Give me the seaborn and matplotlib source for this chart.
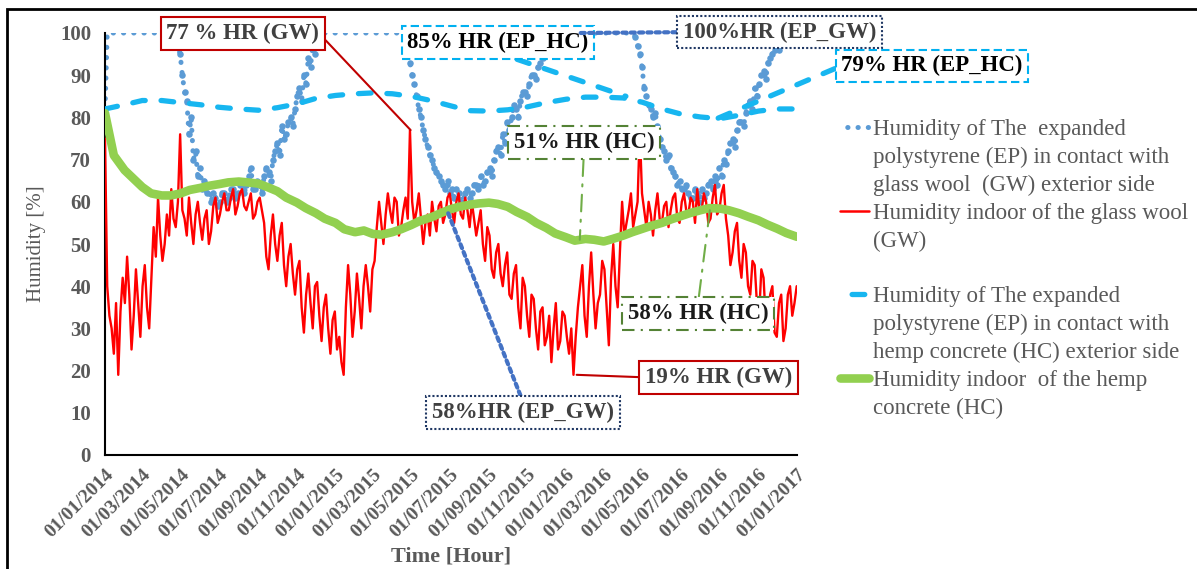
import matplotlib.pyplot as plt
import matplotlib.dates as mdates
import pandas as pd
import seaborn as sns
from matplotlib.lines import Line2D
from matplotlib.patches import Rectangle

# readings every 3.5 days, starting 01/01/2014
ep_gw = ([82] + [100] * 32 + [97] +
         [95, 90, 86, 84, 76, 80, 70, 72, 66, 68, 63, 65, 62, 64, 60, 62,
          61, 59, 60, 62, 62, 60, 61, 63, 63, 61, 62, 64, 65, 62, 64, 66,
          68, 63, 63, 65, 64, 62, 66, 68, 67, 65, 70, 72, 74, 71, 78, 75,
          76, 79, 80, 78, 82, 85, 87, 84, 90, 88, 94, 92, 97, 95, 99, 100] +
         [100] * 39 + [97] +
         [93, 90, 88, 85, 82, 80, 77, 75, 73, 71, 70, 68, 67, 66, 65, 64,
          63, 65, 62, 63, 61, 63, 62, 60, 60, 62, 63, 61, 62, 64, 64, 63,
          66, 64, 65, 67, 68, 66, 70, 72, 73, 71, 76, 74, 79, 77, 80, 83,
          82, 80, 84, 86, 86, 85, 88, 90, 90, 89, 92, 93, 94, 96, 97, 99] +
         [100] * 38 +
         [99, 97, 95, 92, 87, 85, 83, 82, 80, 81, 78, 75, 73, 72, 70, 71,
          68, 67, 66, 64, 65, 63, 63, 64, 62, 61, 61, 63, 62, 60, 63, 61,
          62, 64, 65, 63, 66, 64, 68, 66, 70, 69, 72, 74, 75, 73, 77, 79,
          79, 78, 81, 83, 84, 82, 87, 85, 88, 90, 91, 89, 93, 94, 95, 96,
          97, 96, 98, 99] +
         [100] * 6)

gw_indoor = [75, 40, 33, 30, 24, 36, 19, 34, 42, 36, 47, 38, 25, 33, 44, 36,
             28, 40, 45, 35, 30, 42, 54, 47, 61, 52, 46, 50, 57, 52, 63, 56,
             54, 60, 76, 58, 56, 52, 61, 55, 50, 57, 60, 55, 51, 56, 58, 50,
             53, 59, 61, 55, 57, 60, 62, 58, 58, 61, 63, 57, 59, 62, 63, 59,
             58, 60, 62, 56, 57, 60, 61, 58, 55, 47, 44, 52, 57, 50, 46, 52,
             55, 45, 40, 47, 50, 43, 38, 44, 46, 35, 29, 38, 43, 36, 30, 40,
             41, 33, 27, 35, 38, 30, 24, 32, 34, 25, 28, 22, 19, 35, 45, 38,
             28, 34, 43, 37, 30, 40, 45, 40, 34, 44, 46, 54, 60, 55, 50, 57,
             62, 58, 55, 61, 60, 52, 54, 58, 61, 56, 77, 60, 55, 58, 62, 56,
             50, 55, 57, 52, 60, 56, 53, 59, 60, 55, 57, 61, 62, 58, 55, 60,
             62, 57, 56, 61, 58, 54, 60, 56, 52, 55, 58, 50, 46, 54, 52, 44,
             42, 48, 50, 43, 40, 45, 48, 38, 37, 43, 45, 35, 30, 42, 40, 33,
             28, 38, 37, 30, 25, 34, 35, 26, 28, 33, 22, 30, 36, 25, 27, 34,
             33, 28, 24, 30, 19, 28, 35, 40, 45, 33, 28, 40, 48, 38, 30, 36,
             38, 46, 44, 35, 26, 42, 50, 40, 35, 48, 60, 52, 55, 58, 62, 54,
             57, 60, 77, 62, 58, 54, 60, 57, 52, 58, 62, 56, 55, 59, 60, 54,
             58, 61, 62, 56, 55, 60, 62, 58, 57, 61, 60, 55, 63, 58, 58, 62,
             60, 55, 56, 61, 64, 57, 58, 62, 64, 56, 52, 45, 48, 53, 55, 46,
             42, 50, 48, 40, 38, 46, 45, 36, 33, 44, 42, 32, 30, 38, 40, 29,
             28, 36, 38, 27, 30, 38, 40, 33, 36, 40]

# readings on the 1st and 15th of each month
hc_indoor = [81, 71, 67.5, 65.5, 63.5, 62, 61.5, 61.5, 62, 62.8, 63.3, 63.8,
             64.2, 64.6, 64.8, 64.6, 64.3, 63.5, 62.5, 61, 59.8, 58.5, 57.3,
             56, 55, 53.5, 52.8, 53.2, 52.4, 52.2, 52.8, 53.5, 54.5, 55.5,
             56.3, 57.2, 58.2, 58.8, 59.3, 59.6, 59.8, 59.5, 58.8, 57.6, 56.4,
             55, 53.8, 52.5, 51.6, 50.8, 51.2, 51, 50.6, 51.2, 52, 52.8, 53.6,
             54.3, 55, 55.8, 56.6, 57.3, 58, 58.5, 58.4, 58, 57.3, 56.5, 55.6,
             54.6, 53.6, 52.6, 51.7]

# monthly readings
ep_hc = [82, 83, 84, 84, 83.5, 83, 82.4, 82, 81.7, 82.3, 83.2, 84.5, 85.2,
         85.6, 85.8, 85.6, 85, 84, 82.8, 81.6, 81.5, 81.8, 82.5, 83.5, 84.3,
         84.8, 84.8, 84.6, 83.6, 82, 80.8, 80.1, 79.7, 80.5, 81.5, 82, 82]

legend_labels = [
    ["Humidity of The  expanded", "polystyrene (EP) in contact with",
     "glass wool  (GW) exterior side"],
    ["Humidity indoor of the glass wool", "(GW)", " "],
    ["Humidity of The expanded", "polystyrene (EP) in contact with",
     "hemp concrete (HC) exterior side"],
    ["Humidity indoor  of the hemp", "concrete (HC)"],
]

# call-outs: text, series, date, value, box centre (axes fraction), anchor
annot_text = ["77 % HR (GW)", "85% HR (EP_HC)", "100%HR (EP_GW)",
              "79% HR (EP_HC)", "51% HR (HC)", "58% HR (HC)",
              "19% HR (GW)", "58%HR (EP_GW)"]
annot_kind = ["GW", "EP_HC", "EP_GW", "EP_HC", "HC", "HC", "GW", "EP_GW"]
annot_date = ["2015-04-30", "2016-04-05", "2016-01-23", "2016-08-24",
              "2016-01-23", "2016-08-16", "2016-01-18", "2015-06-28"]
annot_value = [77, 85, 100, 79.5, 51, 58, 19, 57.5]
annot_pos = [(0.199, 0.999), (0.568, 0.978), (0.975, 1.002), (1.195, 0.922),
             (0.692, 0.741), (0.857, 0.335), (0.887, 0.184), (0.604, 0.101)]
annot_rel = [(1, 0.5), (0.5, 0), (0, 0.5), (0, 0.5),
             (0.5, 0), (0.5, 1), (0, 0.5), (0.5, 1)]

c_epgw = "#5B9BD5"
c_gw = "#FF0000"
c_ephc = "#17B6F0"
c_hc = "#92D050"
gray = "#595959"
dot_style = (0, (0.05, 2.0))
dash_style = (0, (2.4, 3.0))

half_weekly = pd.DataFrame({
    "date": pd.date_range("2014-01-01", periods=len(ep_gw), freq="84h"),
    "ep_gw": ep_gw,
    "gw": gw_indoor,
})
half_monthly = pd.DataFrame({
    "date": pd.date_range("2014-01-01", periods=len(hc_indoor), freq="SMS"),
    "hc": hc_indoor,
})
monthly = pd.DataFrame({
    "date": pd.date_range("2014-01-01", periods=len(ep_hc), freq="MS"),
    "ep_hc": ep_hc,
})

sns.set_theme(style="white")
plt.rcParams["font.family"] = ["Liberation Serif", "DejaVu Serif"]

fig = plt.figure(figsize=(11.97, 5.69), dpi=100)
ax = fig.add_axes([105 / 1197, 1 - 455 / 569, 692 / 1197, 422 / 569])

sns.lineplot(data=half_weekly, x="date", y="ep_gw", ax=ax, color=c_epgw,
             linewidth=3.6, zorder=2)
ax.lines[-1].set_linestyle(dot_style)
ax.lines[-1].set_dash_capstyle("round")
sns.scatterplot(data=half_weekly[half_weekly["ep_gw"] < 100], x="date",
                y="ep_gw", ax=ax, color=c_epgw, s=22, linewidth=0, zorder=2)
sns.lineplot(data=half_weekly, x="date", y="gw", ax=ax, color=c_gw,
             linewidth=1.7, zorder=3)
sns.lineplot(data=monthly, x="date", y="ep_hc", ax=ax, color=c_ephc,
             linewidth=3.8, zorder=4)
ax.lines[-1].set_linestyle(dash_style)
ax.lines[-1].set_dash_capstyle("round")
sns.lineplot(data=half_monthly, x="date", y="hc", ax=ax, color=c_hc,
             linewidth=6.2, zorder=5)
ax.lines[-1].set_solid_capstyle("round")

ax.set_xlim(pd.Timestamp("2014-01-01"), pd.Timestamp("2017-01-01"))
ax.set_ylim(0, 100)
ax.set_yticks(range(0, 101, 10))
ax.xaxis.set_major_locator(mdates.MonthLocator(bymonth=[1, 3, 5, 7, 9, 11]))
ax.xaxis.set_major_formatter(mdates.DateFormatter("%d/%m/%Y"))

for side in ["top", "right"]:
    ax.spines[side].set_visible(False)
for side in ["left", "bottom"]:
    ax.spines[side].set_color("black")
    ax.spines[side].set_linewidth(1.5)

ax.tick_params(axis="both", direction="out", length=6, width=1.5,
               color="black", labelcolor=gray)
ax.tick_params(axis="y", labelsize=15, pad=4)
ax.tick_params(axis="x", labelsize=14, pad=2)
for lab in ax.get_yticklabels():
    lab.set_fontweight("bold")
for lab in ax.get_xticklabels():
    lab.set_fontweight("bold")
    lab.set_rotation(45)
    lab.set_ha("right")
    lab.set_va("top")
    lab.set_rotation_mode("anchor")

ax.set_ylabel("Humidity [%]", fontsize=15, color=gray, labelpad=10)
ax.set_xlabel("Time [Hour]", fontsize=16, color=gray, fontweight="bold",
              labelpad=4)

styles = {
    "GW": dict(ec="#C00000", ls="-", tc="#404040",
               arrow=dict(color="#C00000", lw=1.5, linestyle="-")),
    "EP_HC": dict(ec="#00B0F0", ls=(0, (4, 2)), tc="black",
                  arrow=dict(color=c_ephc, lw=3.8, linestyle=dash_style)),
    "EP_GW": dict(ec="#203864", ls=(0, (1, 1)), tc="#404040",
                  arrow=dict(color="#4472C4", lw=3.0, linestyle=(0, (1, 1)))),
    "HC": dict(ec="#548235", ls=(0, (6, 3, 1, 3)), tc="#1a1a1a",
               arrow=dict(color="#70AD47", lw=1.5,
                          linestyle=(0, (8, 4, 1, 4)))),
}

for text, kind, d, v, pos, rel in zip(annot_text, annot_kind, annot_date,
                                      annot_value, annot_pos, annot_rel):
    st = styles[kind]
    ax.annotate(text, xy=(mdates.date2num(pd.Timestamp(d)), v),
                xytext=pos, textcoords="axes fraction",
                ha="center", va="center", fontsize=16.5, fontweight="bold",
                color=st["tc"], annotation_clip=False, zorder=10,
                bbox=dict(boxstyle="square,pad=0.25", fc="white",
                          ec=st["ec"], ls=st["ls"], lw=1.5),
                arrowprops=dict(arrowstyle="-", shrinkA=0, shrinkB=0,
                                relpos=rel, **st["arrow"]))

blank = Line2D([], [], linestyle="none")
first = [
    Line2D([], [], color=c_epgw, lw=3.6, linestyle=(0.6, (0.05, 2.0)),
           dash_capstyle="round"),
    Line2D([], [], color=c_gw, lw=1.8),
    Line2D([], [], color=c_ephc, lw=3.8, linestyle=(3.2, (2.4, 3.0)),
           dash_capstyle="round"),
    Line2D([], [], color=c_hc, lw=6.2),
]
handles, labels = [], []
for h, lines in zip(first, legend_labels):
    for i, line in enumerate(lines):
        handles.append(h if i == 0 else blank)
        labels.append(line)

ax.legend(handles, labels, loc="upper left",
          bbox_to_anchor=(840 / 1197, 1 - 119 / 569),
          bbox_transform=fig.transFigure, frameon=False, fontsize=16.5,
          labelcolor=gray, handlelength=1.25,
          handletextpad=0.2, labelspacing=0.295, borderpad=0,
          borderaxespad=0)

fig.patches.append(Rectangle((7 / 1197, -0.1), 1.2, 1.1 - 9 / 569,
                             transform=fig.transFigure, fill=False,
                             ec="black", lw=2))

fig.savefig("out.png", dpi=100)
